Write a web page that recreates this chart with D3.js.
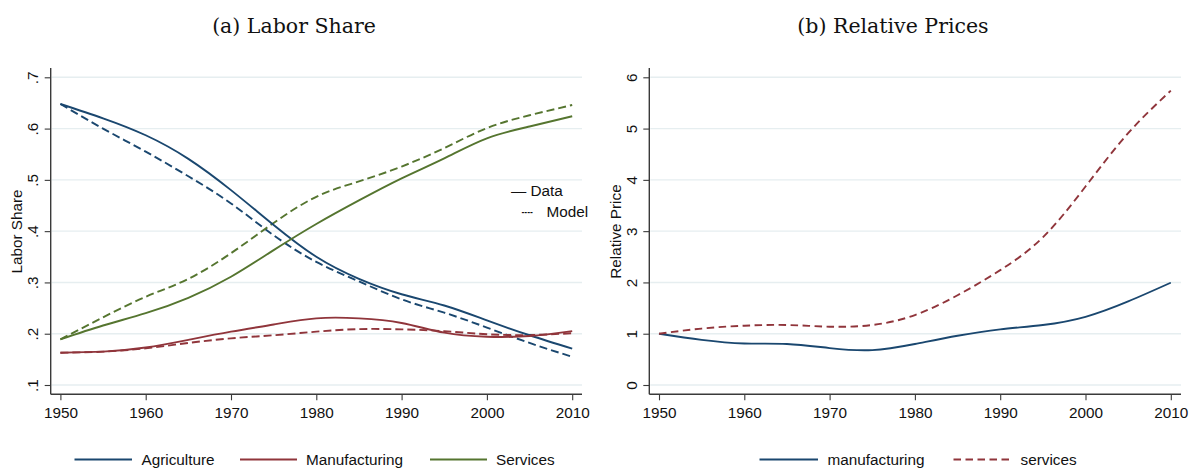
<!DOCTYPE html>
<html><head><meta charset="utf-8">
<script src="https://cdn.jsdelivr.net/npm/d3@7"></script>
<style>
html,body{margin:0;padding:0;background:#fff;}
svg text{font-family:"Liberation Sans",Arial,Helvetica,sans-serif;fill:#111;}
</style></head>
<body>
<svg id="chart" width="1190" height="468"></svg>
<script>
// ---------- data ----------
const years = [1950,1955,1960,1965,1970,1975,1980,1985,1990,1995,2000,2005,2010];
const agriData  = [0.648,0.620,0.587,0.541,0.480,0.412,0.350,0.307,0.277,0.255,0.226,0.197,0.171];
const agriModel = [0.648,0.600,0.555,0.507,0.454,0.392,0.340,0.302,0.267,0.241,0.212,0.182,0.155];
const manuData  = [0.163,0.165,0.173,0.188,0.204,0.218,0.230,0.230,0.221,0.202,0.194,0.1955,0.205];
const manuModel = [0.163,0.165,0.1715,0.182,0.191,0.197,0.204,0.209,0.2085,0.205,0.199,0.1975,0.201];
const servData  = [0.189,0.216,0.240,0.270,0.311,0.363,0.414,0.460,0.503,0.542,0.581,0.604,0.624];
const servModel = [0.189,0.232,0.272,0.307,0.357,0.416,0.467,0.497,0.526,0.562,0.601,0.626,0.646];

const priceManufacturing = [1.0,0.88,0.81,0.80,0.72,0.68,0.80,0.96,1.085,1.17,1.33,1.63,1.995];
const priceServices      = [1.0,1.10,1.156,1.17,1.137,1.17,1.364,1.75,2.24,2.88,3.87,4.91,5.74];

const xTicks = [1950,1960,1970,1980,1990,2000,2010];
const yTicksA = [0.1,0.2,0.3,0.4,0.5,0.6,0.7];
const yTickLabelsA = [".1",".2",".3",".4",".5",".6",".7"];
const yTicksB = [0,1,2,3,4,5,6];

const titleA = "(a) Labor Share", titleB = "(b) Relative Prices";
const yTitleA = "Labor Share", yTitleB = "Relative Price";
const legendA = ["Agriculture","Manufacturing","Services"];
const legendB = ["manufacturing","services"];

// ---------- style ----------
const NAVY = "#1a476f", MAROON = "#90353b", GREEN = "#55752f";
const GRID = "#e6eef0", AXIS = "#3a3a3a";
const FS = "15.3px";

const svg = d3.select("#chart");

function panel(cfg){
  const g = svg.append("g");
  const x = d3.scaleLinear().domain([1950,2010]).range([cfg.x1950, cfg.x1950 + 511.8]);
  const y = d3.scaleLinear().domain(cfg.yDomain).range([385, 77.3]);

  g.append("g").selectAll("line").data(cfg.yTicks).join("line")
    .attr("x1", cfg.axisX + 1).attr("x2", cfg.xEnd)
    .attr("y1", d => y(d)).attr("y2", d => y(d))
    .attr("stroke", GRID).attr("stroke-width", 1.4);

  const ya = d3.axisLeft(y).tickValues(cfg.yTicks).tickSize(6).tickSizeOuter(0)
    .tickFormat((d,i) => cfg.yLabels[i]);
  const yg = g.append("g").attr("transform", `translate(${cfg.axisX},0)`).call(ya);
  yg.select(".domain").remove();
  yg.selectAll(".tick line").attr("stroke", AXIS).attr("stroke-width", 1.1);
  yg.selectAll(".tick text")
    .attr("transform", "rotate(-90)")
    .attr("x", 0).attr("y", -12.5).attr("dy", 0)
    .attr("text-anchor", "middle")
    .style("font-size", FS);
  g.append("line").attr("x1", cfg.axisX).attr("x2", cfg.axisX)
    .attr("y1", 68).attr("y2", 394.3).attr("stroke", AXIS).attr("stroke-width", 1.4);

  const xa = d3.axisBottom(x).tickValues(xTicks).tickSize(6).tickSizeOuter(0).tickFormat(d3.format("d"));
  const xg = g.append("g").attr("transform", "translate(0,394.3)").call(xa);
  xg.select(".domain").remove();
  xg.selectAll(".tick line").attr("stroke", AXIS).attr("stroke-width", 1.1);
  xg.selectAll(".tick text").attr("y", 23.8).attr("dy", 0).style("font-size", FS);
  g.append("line").attr("x1", cfg.axisX).attr("x2", cfg.xEnd)
    .attr("y1", 394.3).attr("y2", 394.3).attr("stroke", AXIS).attr("stroke-width", 1.4);

  g.append("text")
    .attr("transform", `translate(${cfg.yTitleX},231.5) rotate(-90)`)
    .attr("text-anchor", "middle").style("font-size", FS).text(cfg.yTitle);

  g.append("text").attr("x", cfg.titleX).attr("y", 33).attr("text-anchor", "middle")
    .style("font-family", "'DejaVu Serif','Liberation Serif',serif")
    .style("font-size", "20.5px").text(cfg.title);

  const line = d3.line().x((d,i) => x(years[i])).y(d => y(d)).curve(d3.curveNatural);
  cfg.series.forEach(s => {
    g.append("path").attr("d", line(s.values)).attr("fill", "none")
      .attr("stroke", s.color).attr("stroke-width", 1.9)
      .attr("stroke-dasharray", s.dash || null);
  });
  return {g, x, y};
}

panel({
  x1950: 60.4, axisX: 50.7, xEnd: 582, yDomain: [0.1,0.7], yTicks: yTicksA, yLabels: yTickLabelsA,
  yTitle: yTitleA, yTitleX: 22, title: titleA, titleX: 294,
  series: [
    {values: agriModel, color: NAVY, dash: "8,4"},
    {values: manuModel, color: MAROON, dash: "8,4"},
    {values: servModel, color: GREEN, dash: "8,4"},
    {values: agriData, color: NAVY},
    {values: manuData, color: MAROON},
    {values: servData, color: GREEN}
  ]
});

panel({
  x1950: 659, axisX: 649.3, xEnd: 1181, yDomain: [0,6], yTicks: yTicksB, yLabels: yTicksB.map(String),
  yTitle: yTitleB, yTitleX: 621, title: titleB, titleX: 893,
  series: [
    {values: priceManufacturing, color: NAVY},
    {values: priceServices, color: MAROON, dash: "7.5,4.5"}
  ]
});

// inline legend (Data / Model)
svg.append("text").attr("x", 511).attr("y", 196).style("font-size", FS).text("\u2014 Data");
svg.append("text").attr("x", 521.5).attr("y", 217).style("font-size", FS)
  .attr("textLength", 11.5).attr("lengthAdjust", "spacingAndGlyphs").text("----");
svg.append("text").attr("x", 546.5).attr("y", 217).style("font-size", FS).text("Model");

// bottom legends
const legA = [
  {label: legendA[0], color: NAVY, x1: 74.5, x2: 132, tx: 141.5},
  {label: legendA[1], color: MAROON, x1: 240, x2: 297, tx: 306},
  {label: legendA[2], color: GREEN, x1: 430, x2: 487, tx: 496}
];
legA.forEach(d => {
  svg.append("line").attr("x1", d.x1).attr("x2", d.x2).attr("y1", 459.5).attr("y2", 459.5)
    .attr("stroke", d.color).attr("stroke-width", 1.9);
  svg.append("text").attr("x", d.tx).attr("y", 464.5).style("font-size", FS).text(d.label);
});
const legB = [
  {label: legendB[0], color: NAVY, x1: 759.5, x2: 818, tx: 827.5, dash: null},
  {label: legendB[1], color: MAROON, x1: 953.5, x2: 1011, tx: 1020.5, dash: "7.5,4.5"}
];
legB.forEach(d => {
  svg.append("line").attr("x1", d.x1).attr("x2", d.x2).attr("y1", 459.5).attr("y2", 459.5)
    .attr("stroke", d.color).attr("stroke-width", 1.9).attr("stroke-dasharray", d.dash);
  svg.append("text").attr("x", d.tx).attr("y", 464.5).style("font-size", FS).text(d.label);
});
</script>
</body></html>
